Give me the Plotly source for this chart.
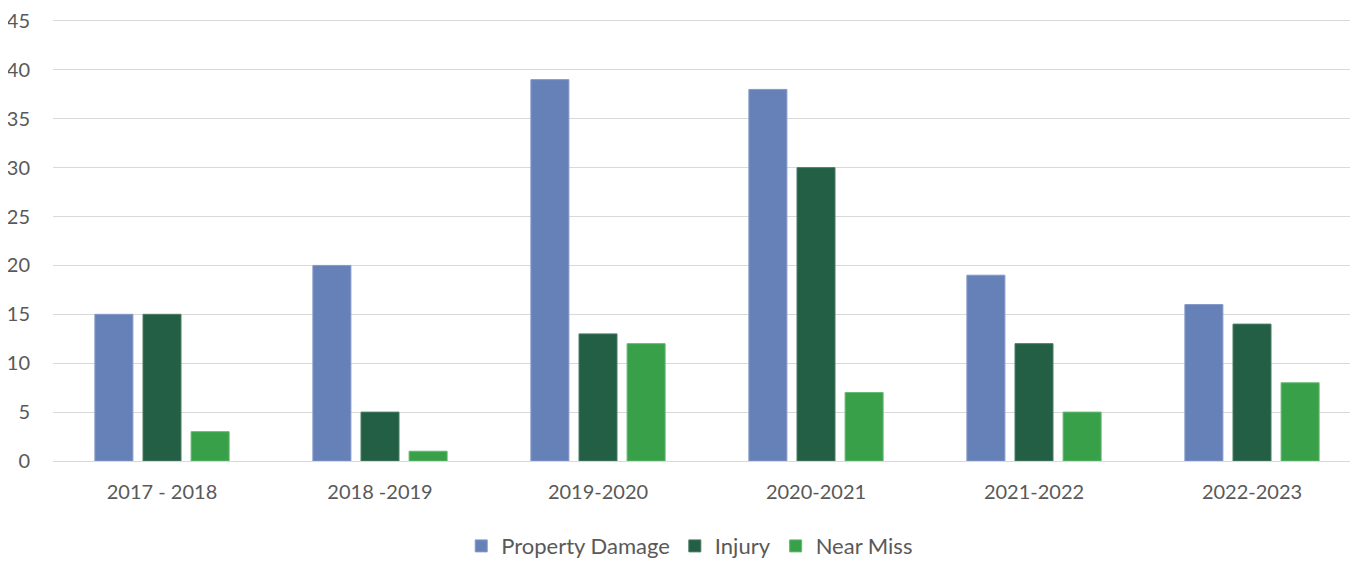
import plotly.graph_objects as go

categories = ["2017 - 2018", "2018 -2019", "2019-2020", "2020-2021", "2021-2022", "2022-2023"]
property_damage = [15, 20, 39, 38, 19, 16]
injury = [15, 5, 13, 30, 12, 14]
near_miss = [3, 1, 12, 7, 5, 8]

series = [
    ("Property Damage", property_damage, "#6680B8", "#8599C8"),
    ("Injury", injury, "#235F44", "#4A7D65"),
    ("Near Miss", near_miss, "#38A048", "#66B872"),
]

fig = go.Figure()
for name, vals, col, edge in series:
    fig.add_trace(go.Bar(x=categories, y=vals, name=name, marker=dict(color=col, line=dict(color=edge, width=1))))

font = "Lato, 'Open Sans', sans-serif"
fig.update_layout(
    width=1358, height=561,
    margin=dict(l=45, r=5, t=11, b=108, autoexpand=False),
    paper_bgcolor="white", plot_bgcolor="white",
    barmode="group", bargap=0.338, bargroupgap=0.21,
    font=dict(family=font, size=20, color="#595959"),
    xaxis=dict(showgrid=False, ticks="", showline=True, linecolor="#D9D9D9", linewidth=1, automargin=False,
               tickfont=dict(size=20, color="#595959"), ticklabelstandoff=13),
    yaxis=dict(range=[0, 45.2], tickvals=[0, 5, 10, 15, 20, 25, 30, 35, 40, 45], showgrid=True,
               gridcolor="#D9D9D9", gridwidth=1, automargin=False, ticklabeloverflow="allow",
               zeroline=False, ticks="", tickfont=dict(size=20, color="#595959"), ticklabelstandoff=22),
    legend=dict(orientation="h", xref="container", x=0.502, xanchor="center", y=-0.145, yanchor="top",
                font=dict(size=22, color="#595959"), itemwidth=30, tracegroupgap=0),
)
fig.write_html("out.html")
